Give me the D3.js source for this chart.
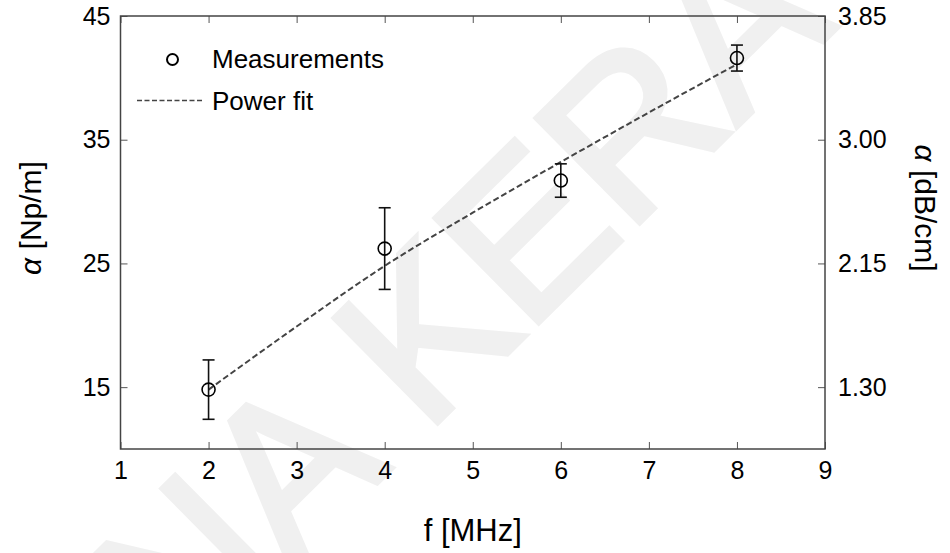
<!DOCTYPE html>
<html>
<head>
<meta charset="utf-8">
<script src="https://cdn.jsdelivr.net/npm/d3@7"></script>
<style>
	body { margin: 0; background: #fff; }
	svg text { font-family: "Liberation Sans", Arial, sans-serif; fill: #000; }
</style>
</head>
<body>
<div id="chart"></div>
<script>
// measured points
const freq = [2, 4, 6, 8];
const alpha = [14.8, 26.2, 31.7, 41.6];
const alphaErr = [2.4, 3.3, 1.35, 1.05];

// power fit
const fitFreq = [2, 3, 4, 5, 6, 7, 8];
const fitAlpha = [14.8, 19.9, 24.8, 29.1, 33.2, 37.2, 41.1];

const xTicks = [1, 2, 3, 4, 5, 6, 7, 8, 9];
const yTicks = [15, 25, 35, 45];
const yRightLabels = ['1.30', '2.15', '3.00', '3.85'];

const W = 950, H = 553;
const m = { top: 16, right: 125, bottom: 104, left: 120.5 };
const width = W - m.left - m.right,
	height = H - m.top - m.bottom;

const svg = d3.select('#chart').append('svg')
	.attr('width', W)
	.attr('height', H);

// watermark (cut by the edges like in the source)
svg.append('text')
	.attr('transform', 'translate(436,319) rotate(-44.7)')
	.attr('text-anchor', 'middle')
	.attr('dy', '0.35em')
	.style('font-size', '213px')
	.style('fill', '#f0f0f0')
	.style('stroke', '#f0f0f0')
	.style('stroke-width', 6)
	.text('INA KERA');

const g = svg.append('g')
	.attr('transform', 'translate(' + m.left + ',' + m.top + ')');

const x = d3.scaleLinear().domain([1, 9]).range([0, width]);
const y = d3.scaleLinear().domain([10, 45]).range([height, 0]);

const axisStyle = sel => {
	sel.select('.domain').remove();
	sel.selectAll('.tick line').attr('stroke', '#555').attr('stroke-width', 1);
	sel.selectAll('.tick text').style('font-size', '25px').attr('fill', '#000');
};

// bottom
g.append('g')
	.attr('transform', 'translate(0,' + height + ')')
	.call(d3.axisBottom(x).tickValues(xTicks).tickSize(-7).tickPadding(12))
	.call(axisStyle);
// top
g.append('g')
	.call(d3.axisTop(x).tickValues(xTicks).tickSize(-7).tickFormat(''))
	.call(axisStyle);
// left
g.append('g')
	.call(d3.axisLeft(y).tickValues(yTicks).tickSize(-7).tickPadding(10))
	.call(axisStyle);
// right
g.append('g')
	.attr('transform', 'translate(' + width + ',0)')
	.call(d3.axisRight(y).tickValues(yTicks).tickSize(-7).tickPadding(13)
		.tickFormat((d, i) => yRightLabels[i]))
	.call(axisStyle);

// frame
g.append('rect')
	.attr('width', width)
	.attr('height', height)
	.attr('fill', 'none')
	.attr('stroke', '#444')
	.attr('stroke-width', 1.5);

// fit line
const line = d3.line()
	.curve(d3.curveMonotoneX)
	.x((d, i) => x(fitFreq[i]))
	.y(d => y(d));

g.append('path')
	.datum(fitAlpha)
	.attr('d', line)
	.attr('fill', 'none')
	.attr('stroke', '#444')
	.attr('stroke-width', 2)
	.attr('stroke-dasharray', '6,3');

// error bars
const bars = g.append('g').selectAll('g')
	.data(freq)
	.enter()
	.append('g')
	.attr('stroke', '#111')
	.attr('stroke-width', 1.6);

bars.append('line')
	.attr('x1', d => x(d)).attr('x2', d => x(d))
	.attr('y1', (d, i) => y(alpha[i] + alphaErr[i]))
	.attr('y2', (d, i) => y(alpha[i] - alphaErr[i]));
bars.append('line')
	.attr('x1', d => x(d) - 6).attr('x2', d => x(d) + 6)
	.attr('y1', (d, i) => y(alpha[i] + alphaErr[i]))
	.attr('y2', (d, i) => y(alpha[i] + alphaErr[i]));
bars.append('line')
	.attr('x1', d => x(d) - 6).attr('x2', d => x(d) + 6)
	.attr('y1', (d, i) => y(alpha[i] - alphaErr[i]))
	.attr('y2', (d, i) => y(alpha[i] - alphaErr[i]));

g.append('g').selectAll('circle')
	.data(freq)
	.enter()
	.append('circle')
	.attr('cx', d => x(d))
	.attr('cy', (d, i) => y(alpha[i]))
	.attr('r', 6.5)
	.attr('fill', 'none')
	.attr('stroke', '#000')
	.attr('stroke-width', 1.6);

// legend
const leg = svg.append('g');
leg.append('circle')
	.attr('cx', 172.5).attr('cy', 59.5).attr('r', 5.5)
	.attr('fill', 'none').attr('stroke', '#000').attr('stroke-width', 2);
leg.append('text')
	.attr('x', 212).attr('y', 68)
	.style('font-size', '26px')
	.text('Measurements');
leg.append('line')
	.attr('x1', 137).attr('x2', 204)
	.attr('y1', 100.5).attr('y2', 100.5)
	.attr('stroke', '#444').attr('stroke-width', 1.6)
	.attr('stroke-dasharray', '5,2.5');
leg.append('text')
	.attr('x', 212).attr('y', 110)
	.style('font-size', '26px')
	.text('Power fit');

// axis titles
svg.append('text')
	.attr('x', m.left + width / 2)
	.attr('y', 541)
	.attr('text-anchor', 'middle')
	.style('font-size', '31px')
	.text('f [MHz]');

const yl = svg.append('text')
	.attr('transform', 'translate(41,218) rotate(-90)')
	.attr('text-anchor', 'middle')
	.style('font-size', '30px');
yl.append('tspan').style('font-style', 'italic').text('α');
yl.append('tspan').text(' [Np/m]');

const yr = svg.append('text')
	.attr('transform', 'translate(915,208) rotate(90)')
	.attr('text-anchor', 'middle')
	.style('font-size', '30px');
yr.append('tspan').style('font-style', 'italic').text('α');
yr.append('tspan').text(' [dB/cm]');
</script>
</body>
</html>
